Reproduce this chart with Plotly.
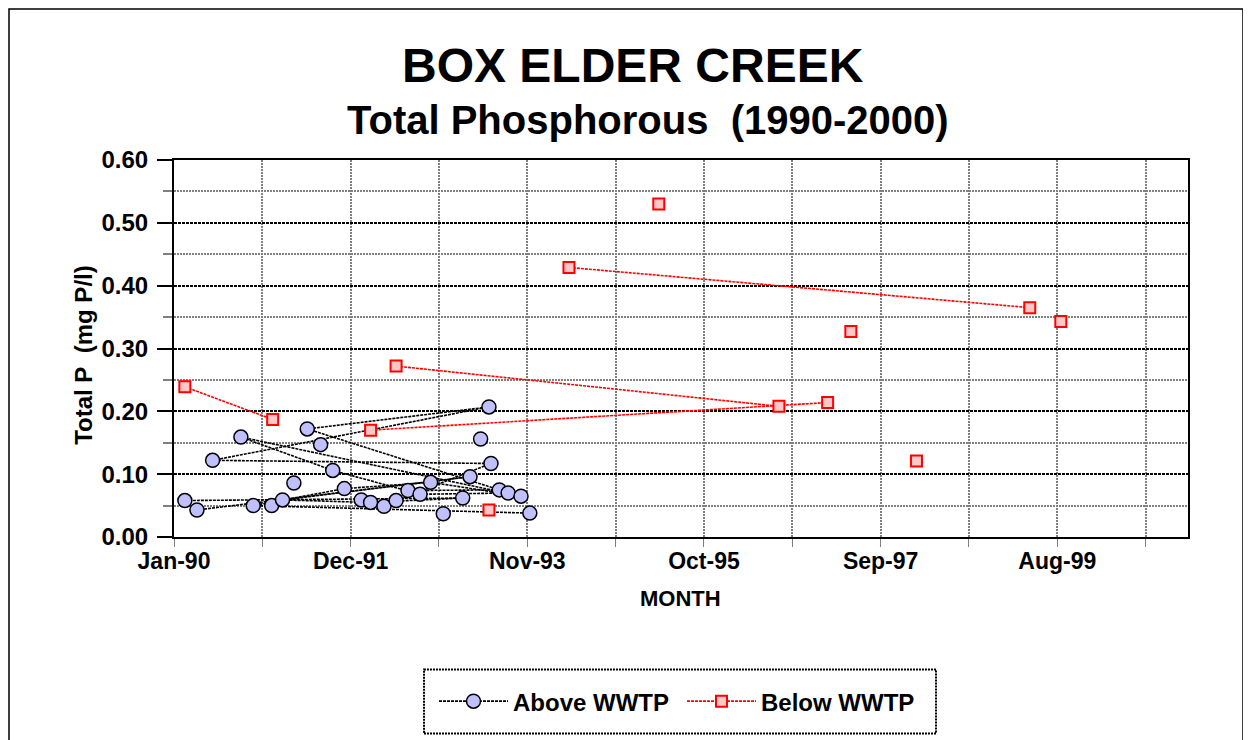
import plotly.graph_objects as go

# ---------------- data ----------------
# Above WWTP, in the row order of the original sheet (None = blank row -> gap)
above_dates = ["1992-01-13", None, "1991-01-23", None,
               "1990-02-13", "1993-02-18", "1992-02-19", "1991-03-07", "1993-03-19",
               "1990-04-02", None, "1992-04-12", None, "1991-04-21", None,
               "1993-04-30", None,
               "1992-05-30", "1993-06-10", "1990-06-03", "1993-06-02", "1991-06-13",
               "1993-07-13", "1992-07-16", None, "1991-08-05", None,
               "1993-08-17", "1992-09-02", "1991-09-22", "1990-09-23", "1993-10-07",
               "1992-10-14", "1991-11-07", "1990-11-11", "1993-11-11", None,
               "1992-12-03"]
above_tp = [0.059, None, 0.050, None,
            0.058, 0.062, 0.055, 0.059, 0.096,
            0.043, None, 0.049, None, 0.086, None,
            0.156, None,
            0.058, 0.117, 0.122, 0.207, 0.172,
            0.075, 0.074, None, 0.147, None,
            0.070, 0.068, 0.106, 0.159, 0.065,
            0.087, 0.077, 0.050, 0.038, None,
            0.037]

# Below WWTP (None = blank row -> gap)
below_dates = ["1990-02-13", "1991-01-27", None, "1992-05-30", "1996-07-25", None,
               "1992-02-19", "1997-02-03", None, "1994-04-15", "1999-04-15", None,
               "1993-06-02", None, "1995-04-06", None, "1997-05-06", None,
               "1998-01-21", None, "1999-08-16"]
below_tp = [0.239, 0.187, None, 0.272, 0.208, None,
            0.170, 0.214, None, 0.429, 0.365, None,
            0.043, None, 0.530, None, 0.327, None,
            0.121, None, 0.343]

title_main = "BOX ELDER CREEK"
title_sub = "Total Phosphorous\u00a0\u00a0(1990-2000)"
y_title = "Total P\u00a0\u00a0(mg P/l)"
x_title = "MONTH"

# ---------------- figure ----------------
OFF = 8                      # page body margin
W, H = 1251, 740
L, T = 174 - OFF, 160 - OFF
pw, ph = 1014, 377.3
R = W - L - pw
B = H - T - ph

def px(xs):                  # screen x -> paper
    return (xs - OFF - L) / pw

def py(ys):                  # screen y -> paper
    return (T + ph - (ys - OFF)) / ph

FONT = "Arial, Liberation Sans, sans-serif"
DAY = 86400000

fig = go.Figure()
fig.add_trace(go.Scatter(
    x=above_dates, y=above_tp, name="Above WWTP", mode="lines+markers",
    connectgaps=False,
    line=dict(color="black", width=1.6, dash="3px,1px"),
    marker=dict(symbol="circle", size=14, color="#C0C0FF",
                line=dict(color="black", width=1.5)),
))
fig.add_trace(go.Scatter(
    x=below_dates, y=below_tp, name="Below WWTP", mode="lines+markers",
    connectgaps=False,
    line=dict(color="red", width=1.6, dash="3px,1px"),
    marker=dict(symbol="square", size=11, color="#FFC8C8",
                line=dict(color="red", width=2)),
))

fig.update_layout(
    width=W, height=H,
    margin=dict(l=L, r=R, t=T, b=B, autoexpand=False),
    paper_bgcolor="white", plot_bgcolor="white",
    font=dict(family=FONT, color="black", size=22, weight="bold"),
    showlegend=True,
    legend=dict(orientation="h", x=px(434), xanchor="left",
                y=py(702), yanchor="middle",
                borderwidth=0, bgcolor="rgba(0,0,0,0)",
                font=dict(family=FONT, size=24, weight="bold", color="black"),
                itemwidth=69, entrywidth=164, entrywidthmode="pixels"),
)

fig.update_xaxes(
    type="date", range=["1990-01-01", "2001-01-01"],
    tick0="1990-01-01", dtick=700 * DAY, tickformat="%b-%y",
    tickfont=dict(family=FONT, size=23, weight="bold", color="black"),
    ticks="outside", ticklen=8, tickcolor="#808080", tickwidth=1,
    ticklabelstandoff=-6,
    showgrid=True, gridcolor="#808080", gridwidth=2, griddash="2px,1px",
    minor=dict(dtick=350 * DAY, tick0="1990-01-01", showgrid=True,
               gridcolor="#808080", gridwidth=2, griddash="2px,1px",
               ticks="outside", ticklen=8, tickcolor="#808080", tickwidth=1),
    showline=True, linecolor="black", linewidth=2, mirror=True,
    zeroline=False,
)
fig.update_yaxes(
    range=[0, 0.6], dtick=0.1, tick0=0, tickformat=".2f",
    tickfont=dict(family=FONT, size=24, weight="bold", color="black"),
    ticks="outside", ticklen=15, tickcolor="black", tickwidth=1.5,
    ticklabelstandoff=4,
    showgrid=True, gridcolor="black", gridwidth=2, griddash="3px,1px",
    minor=dict(dtick=0.05, tick0=0, showgrid=True, gridcolor="#808080",
               gridwidth=2, griddash="2px,1px",
               ticks="outside", ticklen=9, tickcolor="#808080", tickwidth=1.5),
    showline=True, linecolor="black", linewidth=2, mirror=True,
    zeroline=False,
)

fig.add_annotation(text=title_main, xref="paper", yref="paper",
                   x=px(633), y=py(65), xanchor="center", yanchor="middle",
                   showarrow=False,
                   font=dict(family=FONT, size=48, weight="bold", color="black"))
fig.add_annotation(text=title_sub, xref="paper", yref="paper",
                   x=px(648), y=py(120), xanchor="center", yanchor="middle",
                   showarrow=False,
                   font=dict(family=FONT, size=40, weight="bold", color="black"))
fig.add_annotation(text=y_title, xref="paper", yref="paper",
                   x=px(84), y=py(355), xanchor="center", yanchor="middle",
                   textangle=-90, showarrow=False,
                   font=dict(family=FONT, size=24, weight="bold", color="black"))
fig.add_annotation(text=x_title, xref="paper", yref="paper",
                   x=px(680), y=py(599), xanchor="center", yanchor="middle",
                   showarrow=False,
                   font=dict(family=FONT, size=22, weight="bold", color="black"))

# legend frame (dotted)
fig.add_shape(type="rect", xref="paper", yref="paper",
              x0=px(424), x1=px(936), y0=py(734), y1=py(670),
              line=dict(color="black", width=2, dash="2px,1px"),
              fillcolor="rgba(0,0,0,0)")
# outer chart frame
fig.add_shape(type="rect", xref="paper", yref="paper",
              x0=px(9), x1=px(1243), y0=py(770), y1=py(9),
              line=dict(color="black", width=1.5), fillcolor="rgba(0,0,0,0)",
              layer="below")

fig.write_html("out.html")
